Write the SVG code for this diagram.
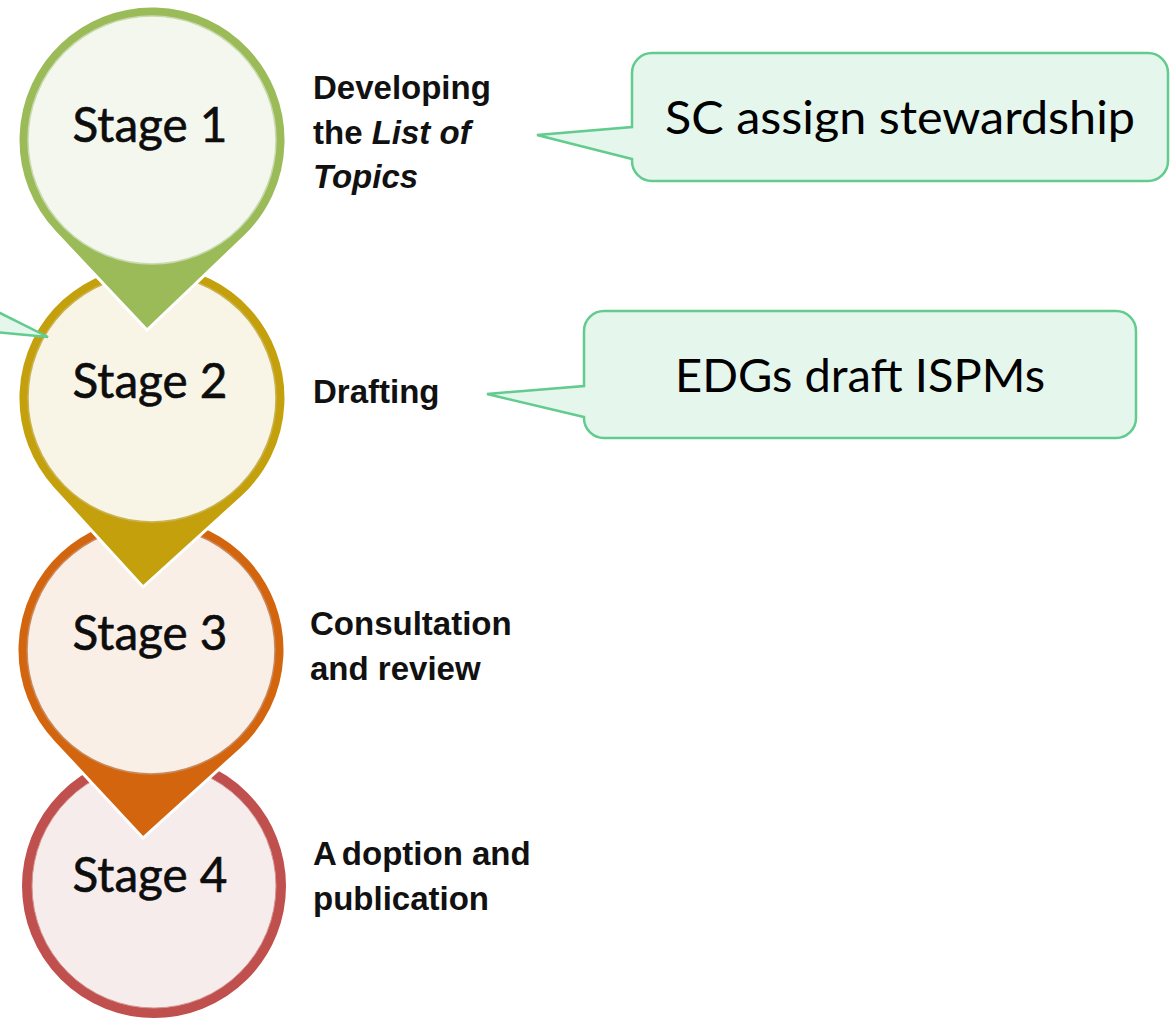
<svg xmlns="http://www.w3.org/2000/svg" width="1173" height="1020" viewBox="0 0 1173 1020">
<style>
.stage{font-family:Lato,"Open Sans","Liberation Sans",sans-serif;font-size:48px;fill:#0d0d0d;text-anchor:middle;stroke:#0d0d0d;stroke-width:0.6}
.lbl{font-family:"Liberation Sans",Arial,sans-serif;font-weight:bold;font-size:33px;fill:#111}
.call{fill:#E5F6EC;stroke:#62CB8E;stroke-width:2.5;stroke-linejoin:miter}
.ctext{font-family:Lato,"Open Sans","Liberation Sans",sans-serif;font-size:46px;fill:#000}
.pin{stroke:#fff;stroke-width:3}
</style>
<rect width="1173" height="1020" fill="#fff"/>

<g id="stage4">
  <circle cx="154" cy="886" r="133" fill="#C0504D" stroke="#fff" stroke-width="2"/>
  <circle cx="154" cy="886" r="122" fill="#F6ECEC" stroke="#D59290" stroke-width="1"/>
  <text class="stage" x="150" y="892" textLength="155" lengthAdjust="spacingAndGlyphs">Stage 4</text>
</g>

<g id="stage3">
  <path class="pin" fill="#D3650F" d="M241,749.3 L143,838 L53,741.4 A134 134 0 1 1 241,749.3 Z"/>
  <circle cx="151" cy="650" r="124" fill="#F9EFE7" stroke="#C98A5E" stroke-width="1.5"/>
  <text class="stage" x="150" y="650" textLength="155" lengthAdjust="spacingAndGlyphs">Stage 3</text>
</g>

<g id="stage2">
  <path class="pin" fill="#C4A10C" d="M242,497.3 L143,587 L53,488.4 A134 134 0 1 1 242,497.3 Z"/>
  <circle cx="152" cy="398" r="124" fill="#F8F5E7" stroke="#C9B455" stroke-width="1.5"/>
  <text class="stage" x="150" y="398" textLength="155" lengthAdjust="spacingAndGlyphs">Stage 2</text>
</g>

<g id="stage1">
  <path class="pin" fill="#9BBB59" d="M244.6,236.9 L147,330 L54.5,231.9 A134 134 0 1 1 244.6,236.9 Z"/>
  <circle cx="152" cy="140" r="124" fill="#F4F7EE" stroke="#C9DAAE" stroke-width="1.5"/>
  <text class="stage" x="150" y="142" textLength="155" lengthAdjust="spacingAndGlyphs">Stage 1</text>
</g>

<g id="label1">
  <text class="lbl" x="313" y="99">Developing</text>
  <text class="lbl" x="313" y="144">the <tspan font-style="italic">List of</tspan></text>
  <text class="lbl" x="313" y="188" font-style="italic">Topics</text>
</g>
<g id="label2">
  <text class="lbl" x="313" y="403">Drafting</text>
</g>
<g id="label3">
  <text class="lbl" x="310" y="635">Consultation</text>
  <text class="lbl" x="310" y="680">and review</text>
</g>
<g id="label4">
  <text class="lbl" x="313" y="865">A<tspan dx="5">doption and</tspan></text>
  <text class="lbl" x="313" y="910">publication</text>
</g>

<g id="callout1">
  <path class="call" d="M652,53 H1148 A20 20 0 0 1 1168,73 V161 A20 20 0 0 1 1148,181 H652 A20 20 0 0 1 632,161 V159 L537,135 L632,127 V73 A20 20 0 0 1 652,53 Z"/>
  <text class="ctext" x="665" y="134" textLength="470" lengthAdjust="spacingAndGlyphs">SC assign stewardship</text>
</g>

<g id="callout2">
  <path class="call" d="M604,311 H1116 A20 20 0 0 1 1136,331 V418 A20 20 0 0 1 1116,438 H604 A20 20 0 0 1 584,418 V417 L487,394 L584,386 V331 A20 20 0 0 1 604,311 Z"/>
  <text class="ctext" x="675" y="392" textLength="370" lengthAdjust="spacingAndGlyphs">EDGs draft ISPMs</text>
</g>

<g id="callout-partial">
  <path class="call" d="M-20,303 L48,337 L-20,330.5"/>
</g>
</svg>
